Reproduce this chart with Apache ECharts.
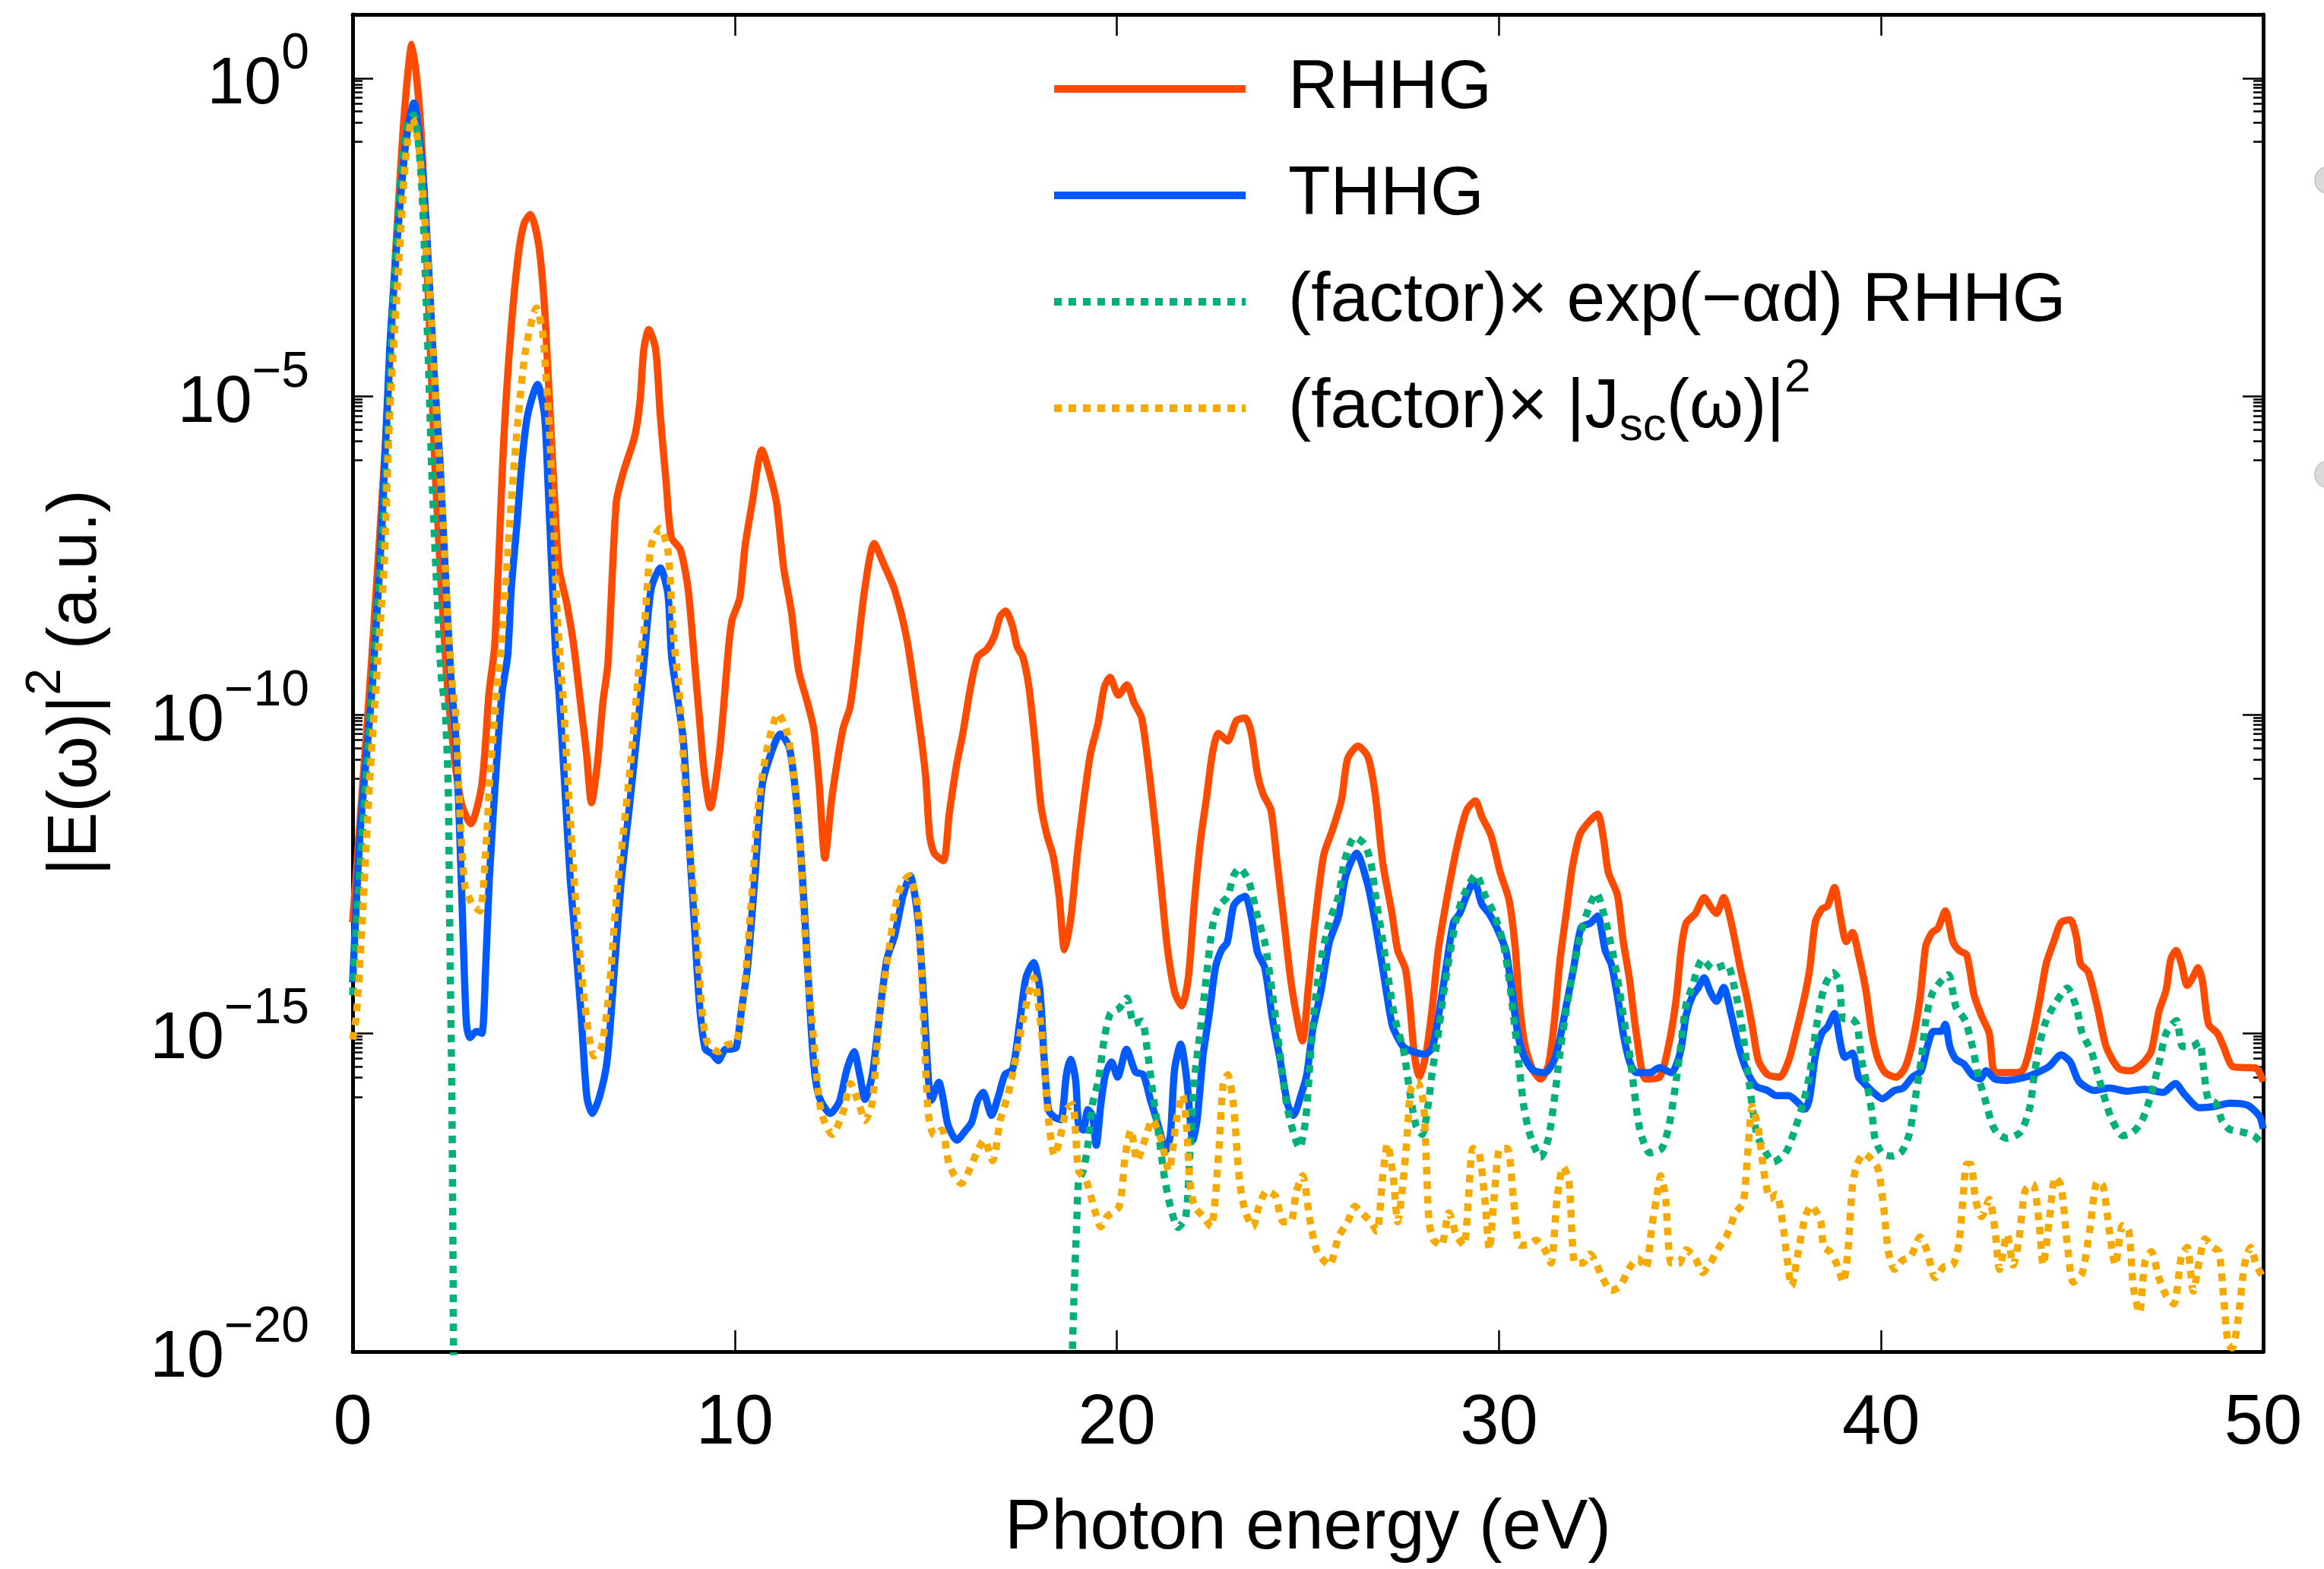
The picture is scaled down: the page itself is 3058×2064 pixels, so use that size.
<!DOCTYPE html>
<html><head><meta charset="utf-8">
<script src="https://cdn.jsdelivr.net/npm/echarts@6/dist/echarts.min.js"></script>
<style>html,body{margin:0;padding:0;background:#fff}#c{width:3058px;height:2064px}</style>
</head><body><div id="c"></div>
<script>
// ---- data: [photon energy (eV), log10 |E|^2] ----
const seriesNames = ['RHHG', 'THHG', '(factor)× exp(−αd) RHHG', '(factor)× |Jsc(ω)|2'];
const seriesColors = ['#FF4B00', '#005AFF', '#03AF7A', '#F6AA00'];

const rhhgLog = [[0,-13.26],[0.25,-11.2],[0.49,-9.2],[0.87,-5.63],[1.11,-2.89],[1.36,-0.5],[1.55,0.53],[1.79,-0.84],[1.99,-3.58],[2.17,-6.32],[2.45,-9.3],[2.65,-10.6],[2.85,-11.4],[3.09,-11.71],[3.38,-11.1],[3.57,-9.65],[3.72,-8.9],[3.96,-5.63],[4.15,-3.92],[4.34,-2.76],[4.49,-2.28],[4.65,-2.14],[4.87,-2.62],[5.02,-3.58],[5.11,-4.6],[5.26,-6.32],[5.4,-7.69],[5.6,-8.24],[5.79,-8.93],[6.0,-10.0],[6.12,-10.6],[6.25,-11.38],[6.4,-10.8],[6.55,-9.8],[6.68,-9.2],[6.9,-6.66],[7.09,-6.18],[7.38,-5.63],[7.52,-5.08],[7.62,-4.26],[7.75,-3.95],[7.93,-4.26],[8.05,-5.29],[8.2,-6.32],[8.34,-7.21],[8.58,-7.41],[8.78,-8.03],[8.97,-9.33],[9.07,-10.01],[9.2,-10.9],[9.36,-11.46],[9.6,-10.59],[9.84,-8.93],[9.93,-8.51],[10.13,-8.17],[10.27,-7.35],[10.46,-6.66],[10.71,-5.84],[10.9,-6.18],[11.09,-6.66],[11.28,-7.69],[11.48,-8.37],[11.67,-9.3],[11.9,-9.8],[12.07,-10.23],[12.21,-11.1],[12.36,-12.25],[12.54,-11.31],[12.83,-10.23],[13.02,-9.87],[13.21,-9.0],[13.4,-8.03],[13.65,-7.31],[13.89,-7.62],[14.18,-8.03],[14.5,-8.8],[14.79,-9.97],[14.99,-10.93],[15.1,-11.89],[15.22,-12.17],[15.46,-12.29],[15.61,-11.57],[15.81,-10.77],[15.97,-10.29],[16.17,-9.57],[16.36,-9.09],[16.6,-8.97],[16.79,-8.77],[16.95,-8.45],[17.09,-8.37],[17.27,-8.61],[17.39,-8.93],[17.54,-9.09],[17.7,-9.57],[17.86,-10.45],[18.01,-11.41],[18.17,-11.89],[18.33,-12.21],[18.49,-12.85],[18.63,-13.69],[18.8,-13.17],[18.96,-12.21],[19.12,-11.41],[19.31,-10.61],[19.51,-10.13],[19.67,-9.57],[19.82,-9.41],[20.04,-9.69],[20.26,-9.53],[20.45,-9.81],[20.65,-10.05],[20.85,-10.93],[21.0,-11.73],[21.16,-12.69],[21.32,-13.65],[21.52,-14.37],[21.7,-14.57],[21.87,-14.13],[22.03,-12.93],[22.19,-11.97],[22.34,-11.33],[22.5,-10.61],[22.66,-10.29],[22.9,-10.41],[23.13,-10.09],[23.36,-10.05],[23.52,-10.29],[23.68,-10.93],[23.83,-11.25],[24.03,-11.49],[24.19,-12.29],[24.39,-13.33],[24.58,-14.29],[24.86,-15.12],[25.01,-14.29],[25.17,-13.33],[25.41,-12.21],[25.64,-11.81],[25.88,-11.33],[26.04,-10.69],[26.31,-10.49],[26.57,-10.66],[26.76,-11.24],[26.96,-12.33],[27.2,-13.12],[27.35,-13.7],[27.55,-13.99],[27.67,-14.57],[27.79,-15.36],[27.92,-15.69],[28.1,-15.29],[28.26,-14.57],[28.41,-13.7],[28.61,-12.97],[28.81,-12.33],[28.97,-11.89],[29.16,-11.49],[29.38,-11.35],[29.55,-11.6],[29.79,-11.89],[30.03,-12.47],[30.26,-12.9],[30.42,-13.63],[30.54,-14.57],[30.69,-15.22],[30.89,-15.58],[31.09,-15.72],[31.29,-15.51],[31.44,-14.86],[31.6,-13.84],[31.76,-13.12],[31.92,-12.4],[32.11,-11.89],[32.31,-11.71],[32.58,-11.56],[32.74,-11.96],[32.86,-12.47],[33.1,-12.83],[33.25,-13.55],[33.41,-14.13],[33.61,-15.07],[33.84,-15.72],[34.2,-15.69],[34.43,-15.22],[34.63,-14.5],[34.78,-13.63],[34.9,-13.27],[35.14,-13.12],[35.37,-12.87],[35.53,-13.01],[35.69,-13.12],[35.88,-12.87],[36.08,-13.27],[36.32,-13.99],[36.48,-14.42],[36.64,-14.93],[36.79,-15.43],[37.03,-15.65],[37.34,-15.69],[37.58,-15.43],[37.77,-15.0],[37.97,-14.5],[38.13,-14.0],[38.28,-13.25],[38.45,-13.05],[38.6,-13.0],[38.78,-12.71],[38.93,-13.15],[39.09,-13.56],[39.25,-13.42],[39.41,-13.77],[39.6,-14.32],[39.76,-15.0],[39.92,-15.41],[40.11,-15.62],[40.39,-15.69],[40.62,-15.55],[40.82,-15.14],[41.02,-14.45],[41.17,-13.63],[41.33,-13.42],[41.49,-13.35],[41.68,-13.08],[41.88,-13.56],[42.04,-13.7],[42.24,-13.77],[42.43,-14.39],[42.63,-14.73],[42.83,-15.0],[42.98,-15.62],[43.3,-15.62],[43.69,-15.59],[43.93,-15.14],[44.16,-14.45],[44.32,-13.91],[44.52,-13.56],[44.71,-13.26],[44.95,-13.22],[45.11,-13.49],[45.22,-13.91],[45.42,-14.04],[45.66,-14.59],[45.89,-15.21],[46.21,-15.55],[46.52,-15.59],[46.83,-15.48],[47.07,-15.28],[47.27,-14.66],[47.46,-14.32],[47.58,-13.84],[47.72,-13.7],[47.86,-13.91],[48.01,-14.25],[48.17,-14.11],[48.29,-13.97],[48.41,-14.18],[48.57,-14.86],[48.8,-15.0],[48.96,-15.21],[49.19,-15.52],[49.51,-15.54],[49.82,-15.55],[50.0,-15.76]];

const thhgLog = [[0,-14.2],[0.2,-11.82],[0.52,-9.5],[0.77,-7.0],[0.97,-4.26],[1.21,-2.21],[1.4,-0.98],[1.6,-0.39],[1.84,-1.52],[1.98,-2.89],[2.13,-4.6],[2.28,-5.97],[2.42,-7.69],[2.57,-9.4],[2.7,-10.37],[2.8,-11.82],[2.9,-13.63],[2.98,-14.86],[3.07,-15.07],[3.24,-14.97],[3.38,-15.0],[3.48,-13.99],[3.58,-12.54],[3.77,-10.73],[3.91,-9.65],[4.06,-9.06],[4.15,-8.03],[4.3,-7.0],[4.44,-5.97],[4.58,-5.29],[4.84,-4.81],[5.02,-5.29],[5.11,-6.32],[5.21,-7.69],[5.31,-9.0],[5.4,-9.65],[5.55,-11.1],[5.69,-12.54],[5.84,-13.63],[5.98,-14.71],[6.13,-16.0],[6.27,-16.26],[6.46,-16.0],[6.66,-15.43],[6.85,-13.99],[7.04,-12.54],[7.24,-11.46],[7.43,-10.37],[7.62,-9.2],[7.81,-8.03],[8.05,-7.69],[8.25,-8.1],[8.35,-9.1],[8.65,-10.37],[8.79,-11.82],[8.94,-13.26],[9.08,-14.57],[9.23,-15.25],[9.42,-15.33],[9.57,-15.43],[9.76,-15.25],[9.9,-15.25],[10.04,-15.22],[10.19,-14.57],[10.33,-13.99],[10.53,-12.54],[10.72,-11.1],[10.96,-10.59],[11.19,-10.3],[11.43,-10.52],[11.62,-11.38],[11.77,-12.54],[11.91,-13.99],[12.06,-15.43],[12.21,-16.0],[12.5,-16.26],[12.74,-16.07],[12.93,-15.58],[13.12,-15.29],[13.27,-15.65],[13.41,-16.04],[13.6,-15.65],[13.79,-14.71],[13.98,-13.84],[14.18,-13.48],[14.4,-12.85],[14.59,-12.53],[14.79,-13.17],[14.91,-14.13],[14.99,-14.93],[15.07,-15.73],[15.15,-16.05],[15.34,-15.77],[15.46,-16.05],[15.58,-16.44],[15.81,-16.68],[16.05,-16.52],[16.2,-16.4],[16.36,-16.05],[16.5,-15.93],[16.72,-16.29],[16.91,-15.97],[17.07,-15.65],[17.27,-15.57],[17.47,-14.77],[17.62,-14.13],[17.82,-13.89],[17.98,-14.29],[18.09,-15.33],[18.21,-16.2],[18.37,-16.32],[18.53,-16.36],[18.68,-15.65],[18.79,-15.41],[18.92,-15.73],[19.0,-16.44],[19.12,-16.52],[19.24,-16.2],[19.36,-16.29],[19.46,-16.76],[19.58,-16.12],[19.7,-15.65],[19.86,-15.45],[20.02,-15.69],[20.25,-15.25],[20.49,-15.61],[20.69,-15.65],[20.88,-16.05],[21.08,-16.44],[21.28,-16.84],[21.4,-16.6],[21.51,-15.57],[21.67,-15.17],[21.83,-15.73],[21.99,-16.68],[22.1,-16.36],[22.26,-15.33],[22.42,-14.69],[22.58,-13.97],[22.74,-13.69],[22.89,-13.57],[23.05,-13.01],[23.21,-12.89],[23.36,-12.85],[23.52,-13.17],[23.68,-13.73],[23.87,-13.97],[24.07,-14.77],[24.27,-15.41],[24.47,-16.12],[24.62,-16.29],[24.82,-15.97],[24.97,-15.65],[25.13,-14.93],[25.33,-14.37],[25.56,-13.57],[25.8,-13.17],[25.99,-12.53],[26.27,-12.17],[26.57,-12.68],[26.76,-13.26],[26.96,-13.99],[27.2,-14.86],[27.35,-15.07],[27.51,-15.22],[27.75,-15.29],[28.06,-15.33],[28.26,-15.22],[28.46,-14.57],[28.61,-13.99],[28.81,-13.26],[28.97,-13.12],[29.16,-12.83],[29.35,-12.61],[29.55,-12.97],[29.74,-13.12],[29.94,-13.34],[30.18,-13.7],[30.34,-14.35],[30.49,-15.0],[30.65,-15.36],[30.89,-15.58],[31.2,-15.62],[31.44,-15.43],[31.6,-15.07],[31.76,-14.57],[31.95,-13.99],[32.15,-13.34],[32.39,-13.27],[32.58,-13.16],[32.78,-13.7],[32.94,-13.92],[33.1,-14.42],[33.25,-15.0],[33.41,-15.43],[33.6,-15.62],[33.95,-15.62],[34.2,-15.54],[34.51,-15.62],[34.75,-15.29],[34.9,-14.71],[35.06,-14.42],[35.22,-14.28],[35.37,-14.13],[35.53,-14.35],[35.69,-14.5],[35.88,-14.28],[36.08,-14.71],[36.28,-15.22],[36.48,-15.58],[36.72,-15.83],[37.03,-15.9],[37.26,-15.98],[37.58,-15.98],[37.81,-16.08],[38.01,-16.19],[38.13,-16.01],[38.28,-15.35],[38.45,-15.0],[38.6,-14.9],[38.78,-14.69],[38.93,-15.14],[39.05,-15.38],[39.25,-15.31],[39.41,-15.69],[39.56,-15.79],[39.8,-15.93],[40.03,-16.03],[40.35,-15.9],[40.58,-15.86],[40.82,-15.69],[41.05,-15.59],[41.21,-15.21],[41.37,-14.97],[41.57,-14.97],[41.68,-14.86],[41.8,-15.21],[41.96,-15.41],[42.16,-15.48],[42.39,-15.66],[42.59,-15.72],[42.75,-15.59],[42.98,-15.72],[43.3,-15.74],[43.77,-15.69],[44.08,-15.62],[44.4,-15.52],[44.71,-15.34],[44.95,-15.45],[45.18,-15.76],[45.58,-15.9],[45.97,-15.86],[46.44,-15.91],[46.91,-15.88],[47.38,-15.93],[47.7,-15.79],[47.94,-15.96],[48.33,-16.17],[48.72,-16.15],[49.12,-16.1],[49.59,-16.13],[49.9,-16.3],[50,-16.5]];

const expRhhgLog = [[0,-14.4],[0.1,-13.26],[0.3,-11.46],[0.58,-8.93],[0.87,-6.32],[1.06,-3.58],[1.26,-1.52],[1.45,-0.67],[1.6,-0.58],[1.79,-1.52],[1.89,-2.89],[1.99,-4.6],[2.08,-6.32],[2.23,-8.37],[2.32,-9.4],[2.42,-9.9],[2.5,-11.1],[2.54,-13.26],[2.6,-16.15],[2.64,-19.9],[2.66,-22],[2.7,null],[18.8,null],[18.82,-22],[18.84,-19.96],[18.89,-18.92],[18.94,-18.14],[19.0,-17.32],[19.12,-17.16],[19.24,-16.76],[19.36,-16.12],[19.52,-15.73],[19.67,-15.09],[19.83,-14.69],[20.06,-14.61],[20.26,-14.45],[20.45,-14.85],[20.65,-14.81],[20.81,-15.33],[20.93,-15.89],[21.08,-16.52],[21.24,-17.24],[21.4,-17.72],[21.6,-18.05],[21.8,-17.89],[21.91,-16.92],[22.03,-15.73],[22.19,-14.93],[22.34,-14.13],[22.5,-13.33],[22.66,-13.01],[22.9,-12.85],[23.05,-12.53],[23.21,-12.41],[23.45,-12.61],[23.68,-13.17],[23.87,-13.57],[24.07,-14.37],[24.27,-15.33],[24.47,-16.2],[24.78,-16.8],[24.94,-16.36],[25.06,-15.41],[25.17,-14.61],[25.33,-13.89],[25.56,-13.25],[25.8,-12.85],[25.96,-12.29],[26.23,-11.92],[26.49,-12.04],[26.65,-12.33],[26.8,-12.97],[26.96,-13.55],[27.12,-14.2],[27.28,-14.78],[27.51,-15.29],[27.67,-15.94],[27.83,-16.45],[27.99,-16.59],[28.14,-16.15],[28.26,-15.58],[28.38,-15.14],[28.54,-14.42],[28.69,-13.84],[28.89,-13.19],[29.08,-12.83],[29.4,-12.51],[29.63,-12.83],[29.87,-13.12],[30.1,-13.55],[30.26,-14.13],[30.42,-14.93],[30.54,-15.58],[30.65,-16.15],[30.81,-16.59],[31.09,-16.95],[31.29,-16.66],[31.44,-16.08],[31.6,-15.29],[31.76,-14.64],[31.95,-13.99],[32.15,-13.41],[32.39,-12.97],[32.55,-12.8],[32.74,-13.12],[32.94,-13.63],[33.1,-14.13],[33.25,-14.71],[33.41,-15.29],[33.53,-15.86],[33.69,-16.52],[33.95,-16.88],[34.26,-16.81],[34.45,-16.45],[34.61,-15.86],[34.77,-15.14],[34.89,-14.57],[35.05,-14.28],[35.33,-13.84],[35.6,-13.99],[35.96,-13.92],[36.16,-14.28],[36.35,-14.86],[36.55,-15.79],[36.75,-16.59],[36.99,-16.88],[37.18,-17.02],[37.5,-16.88],[37.74,-16.52],[37.97,-16.08],[38.13,-15.65],[38.28,-15.0],[38.5,-14.3],[38.74,-14.05],[38.9,-14.18],[39.01,-14.77],[39.21,-14.77],[39.37,-14.87],[39.49,-15.42],[39.64,-15.83],[39.76,-16.25],[39.84,-16.65],[40.03,-16.89],[40.31,-16.93],[40.54,-16.86],[40.74,-16.58],[40.89,-16.04],[41.05,-15.42],[41.17,-14.8],[41.33,-14.39],[41.57,-14.18],[41.76,-14.08],[41.96,-14.59],[42.2,-14.8],[42.39,-15.21],[42.55,-15.69],[42.75,-16.1],[42.91,-16.44],[43.06,-16.58],[43.3,-16.65],[43.65,-16.55],[43.89,-16.17],[44.0,-15.69],[44.16,-15.14],[44.32,-14.8],[44.56,-14.53],[44.87,-14.29],[45.11,-14.59],[45.26,-15.0],[45.5,-15.28],[45.66,-15.62],[45.89,-16.1],[46.05,-16.37],[46.33,-16.61],[46.6,-16.55],[46.83,-16.37],[47.07,-15.96],[47.27,-15.48],[47.46,-15.0],[47.73,-14.8],[47.89,-15.21],[48.13,-15.21],[48.33,-15.14],[48.44,-15.55],[48.56,-16.04],[48.76,-16.1],[48.92,-16.37],[49.12,-16.51],[49.43,-16.55],[49.75,-16.61],[50,-16.75]];

const jscLog = [[0,-15.1],[0.1,-14.71],[0.25,-13.26],[0.44,-11.1],[0.68,-8.93],[0.82,-7.69],[0.97,-5.29],[1.21,-2.89],[1.4,-1.17],[1.57,-0.63],[1.74,-1.11],[1.89,-2.21],[2.04,-3.58],[2.23,-5.63],[2.37,-7.0],[2.51,-8.72],[2.62,-9.6],[2.7,-10.01],[2.8,-11.46],[2.94,-12.69],[3.14,-12.98],[3.33,-13.08],[3.48,-12.17],[3.58,-11.1],[3.77,-9.65],[3.93,-8.6],[4.15,-6.66],[4.34,-5.29],[4.53,-4.26],[4.81,-3.61],[4.97,-3.99],[5.06,-4.67],[5.16,-5.63],[5.26,-7.0],[5.35,-8.37],[5.45,-9.3],[5.5,-9.65],[5.64,-11.1],[5.79,-12.54],[5.93,-13.63],[6.08,-14.57],[6.32,-15.36],[6.51,-15.22],[6.71,-14.35],[6.9,-12.9],[7.09,-11.82],[7.28,-10.73],[7.52,-9.1],[7.62,-8.72],[7.81,-7.35],[8.05,-7.07],[8.25,-7.41],[8.39,-8.72],[8.55,-9.65],[8.7,-11.1],[8.84,-12.18],[8.99,-13.26],[9.13,-14.57],[9.28,-15.14],[9.57,-15.29],[9.81,-15.18],[10.04,-15.14],[10.23,-14.42],[10.42,-13.05],[10.61,-11.46],[10.85,-10.52],[11.14,-9.98],[11.38,-10.3],[11.58,-11.1],[11.72,-12.18],[11.86,-13.63],[12.06,-15.07],[12.26,-16.23],[12.55,-16.59],[12.84,-16.23],[13.03,-15.79],[13.27,-16.15],[13.41,-16.37],[13.6,-16.08],[13.79,-14.71],[13.98,-13.92],[14.27,-12.83],[14.55,-12.53],[14.79,-13.01],[14.95,-14.93],[15.07,-16.28],[15.22,-16.6],[15.42,-16.52],[15.62,-17.08],[15.93,-17.36],[16.13,-17.16],[16.36,-16.84],[16.52,-16.68],[16.75,-17.0],[16.95,-16.36],[17.15,-15.97],[17.35,-15.41],[17.55,-14.77],[17.82,-14.13],[18.02,-14.93],[18.13,-15.73],[18.21,-16.36],[18.37,-16.92],[18.53,-16.6],[18.68,-16.2],[18.84,-16.12],[19.0,-17.16],[19.2,-17.32],[19.43,-17.8],[19.58,-18.04],[19.74,-17.88],[20.06,-17.72],[20.22,-16.92],[20.37,-16.52],[20.53,-17.0],[20.73,-16.68],[20.93,-16.36],[21.16,-16.68],[21.36,-17.16],[21.56,-16.36],[21.72,-15.97],[21.83,-16.52],[21.91,-17.32],[22.03,-17.72],[22.26,-17.88],[22.46,-18.04],[22.66,-16.92],[22.78,-15.81],[22.9,-15.65],[23.05,-16.12],[23.21,-17.32],[23.36,-17.8],[23.56,-18.04],[23.72,-17.72],[23.92,-17.48],[24.15,-17.56],[24.35,-17.96],[24.55,-17.96],[24.7,-17.48],[24.86,-17.24],[25.06,-17.96],[25.25,-18.44],[25.56,-18.64],[25.8,-18.2],[26.04,-17.96],[26.23,-17.72],[26.4,-17.82],[26.64,-17.96],[26.8,-18.11],[26.96,-17.24],[27.08,-16.74],[27.23,-17.24],[27.35,-17.96],[27.47,-17.46],[27.58,-16.74],[27.7,-15.86],[27.86,-15.76],[28.02,-16.08],[28.09,-16.88],[28.17,-17.96],[28.29,-18.25],[28.49,-18.33],[28.69,-17.82],[28.89,-18.18],[29.08,-18.33],[29.2,-17.6],[29.32,-16.81],[29.48,-16.88],[29.63,-17.6],[29.75,-18.4],[29.87,-17.6],[30.03,-16.81],[30.22,-16.81],[30.38,-17.6],[30.54,-18.33],[30.73,-18.33],[30.97,-18.25],[31.2,-18.4],[31.36,-18.61],[31.52,-17.6],[31.68,-17.1],[31.83,-17.31],[31.99,-18.61],[32.19,-18.61],[32.39,-18.47],[32.54,-18.61],[32.7,-18.83],[32.94,-19.04],[33.17,-18.97],[33.41,-18.69],[33.64,-18.54],[33.84,-18.69],[34.0,-18.04],[34.12,-17.6],[34.23,-17.24],[34.35,-17.53],[34.51,-18.61],[34.71,-18.61],[34.9,-18.4],[35.14,-18.54],[35.33,-18.76],[35.53,-18.61],[35.72,-18.4],[35.96,-18.18],[36.19,-17.82],[36.39,-17.67],[36.51,-16.88],[36.63,-16.15],[36.79,-16.52],[36.95,-17.24],[37.1,-17.6],[37.26,-17.53],[37.42,-17.96],[37.54,-18.54],[37.66,-18.97],[37.82,-18.47],[38.01,-17.89],[38.17,-17.71],[38.3,-17.8],[38.42,-17.95],[38.5,-18.36],[38.66,-18.43],[38.85,-18.64],[39.01,-18.91],[39.13,-18.43],[39.25,-17.4],[39.37,-17.06],[39.56,-16.89],[39.76,-16.99],[39.92,-17.13],[40.07,-17.74],[40.19,-18.43],[40.35,-18.71],[40.55,-18.57],[40.78,-18.5],[41.02,-18.2],[41.21,-18.43],[41.41,-18.84],[41.64,-18.67],[41.88,-18.64],[42.04,-18.29],[42.16,-17.47],[42.24,-17.06],[42.35,-17.06],[42.47,-17.61],[42.63,-17.88],[42.83,-17.61],[42.98,-18.09],[43.1,-18.71],[43.3,-18.16],[43.46,-18.64],[43.61,-18.23],[43.77,-17.47],[43.97,-17.37],[44.13,-17.95],[44.24,-18.64],[44.4,-17.95],[44.56,-17.26],[44.71,-17.4],[44.87,-18.29],[45.03,-18.91],[45.26,-18.77],[45.46,-18.09],[45.66,-17.33],[45.81,-17.4],[45.97,-18.09],[46.13,-18.64],[46.32,-18.02],[46.48,-18.09],[46.6,-18.98],[46.76,-19.39],[46.91,-18.57],[47.07,-18.43],[47.27,-18.84],[47.46,-19.12],[47.66,-19.25],[47.86,-18.5],[48.01,-18.36],[48.17,-19.05],[48.33,-18.57],[48.48,-18.23],[48.68,-18.36],[48.84,-18.43],[48.96,-19.12],[49.08,-19.88],[49.19,-19.94],[49.35,-19.46],[49.51,-18.64],[49.67,-18.36],[49.82,-18.64],[50,-18.84]];

// ---- axis ticks / labels ----
const xTicks = [0, 10, 20, 30, 40, 50];
const yMajorTicks = [1e-20, 1e-15, 1e-10, 1e-5, 1];
const yTickExponents = ['−20', '−15', '−10', '−5', '0'];
const yMinorTicks = [];
yMajorTicks.forEach(v => { if (v > 1e-20) { for (let k = 1; k <= 9; k++) yMinorTicks.push(k * v / 10); } });

const FONT = 'Liberation Sans';
const toPoints = arr => arr.map(p => [p[0], p[1] === null ? null : Math.pow(10, p[1])]);

function yLabel(v) {
  let best = 0, bd = Infinity;
  yMajorTicks.forEach((t, i) => { const d = Math.abs(Math.log10(t) - Math.log10(v)); if (d < bd) { bd = d; best = i; } });
  return '{b|10}{s|' + yTickExponents[best] + '}';
}
const yRich = {
  b: { fontSize: 88, lineHeight: 88, fontFamily: FONT, color: '#000' },
  s: { fontSize: 66, lineHeight: 66, fontFamily: FONT, color: '#000', padding: [0, 0, 80, 0] }
};

function makeY(pos, ticks, len, labels) {
  return {
    type: 'log', min: 1e-20, max: 10, position: pos, gridIndex: 0,
    axisLine: { show: labels, lineStyle: { color: '#000', width: 5 } },
    axisTick: { show: true, inside: true, length: len, customValues: ticks, lineStyle: { color: '#000', width: 2.5 } },
    axisLabel: labels && pos === 'left' ? {
      show: true, customValues: yMajorTicks, formatter: yLabel, rich: yRich,
      margin: 57, padding: [18, 0, 0, 0], fontFamily: FONT, fontSize: 88, color: '#000'
    } : { show: false },
    splitLine: { show: false }, minorTick: { show: false }
  };
}

const chart = echarts.init(document.getElementById('c'), null, { renderer: 'canvas' });
const option = {
  animation: false,
  backgroundColor: '#fff',
  grid: { left: 464, right: 80, top: 19, bottom: 286, containLabel: false, outerBoundsMode: 'none' },
  xAxis: [
    {
      type: 'value', min: 0, max: 50, interval: 10, position: 'bottom',
      axisLine: { show: true, onZero: false, lineStyle: { color: '#000', width: 5 } },
      axisTick: { show: true, inside: true, length: 28, lineStyle: { color: '#000', width: 2.5 } },
      axisLabel: { show: true, margin: 50, fontFamily: FONT, fontSize: 92, color: '#000',
        customValues: xTicks, formatter: v => String(v) },
      splitLine: { show: false },
      name: 'Photon energy (eV)', nameLocation: 'middle', nameGap: 188,
      nameTextStyle: { fontFamily: FONT, fontSize: 92, color: '#000' }
    },
    {
      type: 'value', min: 0, max: 50, interval: 10, position: 'top',
      axisLine: { show: true, onZero: false, lineStyle: { color: '#000', width: 5 } },
      axisTick: { show: true, inside: true, length: 28, lineStyle: { color: '#000', width: 2.5 } },
      axisLabel: { show: false }, splitLine: { show: false }
    }
  ],
  yAxis: [
    makeY('left', yMajorTicks, 27, true),
    makeY('left', yMinorTicks, 13, false),
    makeY('right', yMajorTicks, 27, true),
    makeY('right', yMinorTicks, 13, false)
  ],
  legend: {
    show: true, orient: 'vertical', left: 1382, top: 47, padding: 0,
    itemWidth: 252, itemHeight: 20, itemGap: 0,
    data: seriesNames,
    itemStyle: { opacity: 0, borderWidth: 0 },
    lineStyle: { width: 10, cap: 'butt' },
    textStyle: {
      fontFamily: FONT, fontSize: 91, color: '#000', lineHeight: 140, padding: [0, 0, 0, 51],
      rich: {
        t: { fontFamily: FONT, fontSize: 91, lineHeight: 140, color: '#000' },
        sub: { fontFamily: FONT, fontSize: 62, lineHeight: 62, color: '#000', padding: [50, 0, 0, 0] },
        sup: { fontFamily: FONT, fontSize: 62, lineHeight: 62, color: '#000', padding: [0, 0, 78, 0] }
      }
    },
    formatter: function (name) {
      if (name === seriesNames[3]) return '{t|(factor)× |J}{sub|sc}{t|(ω)|}{sup|2}';
      return name;
    }
  },
  graphic: [
    {
      type: 'text', x: 101, y: 898, rotation: Math.PI / 2, z: 100,
      style: {
        text: '{a||E(ω)|}{s|2}{a| (a.u.)}',
        align: 'center', verticalAlign: 'middle', fill: '#000',
        rich: {
          a: { fontFamily: FONT, fontSize: 90, lineHeight: 90, fill: '#000' },
          s: { fontFamily: FONT, fontSize: 64, lineHeight: 64, fill: '#000', padding: [0, 0, 80, 0] }
        }
      }
    },
    { type: 'circle', shape: { cx: 3064, cy: 237, r: 18 }, style: { fill: '#dadada', stroke: '#c0c0c0', lineWidth: 1.5 } },
    { type: 'circle', shape: { cx: 3064, cy: 624, r: 18 }, style: { fill: '#dadada', stroke: '#c0c0c0', lineWidth: 1.5 } }
  ],
  series: [
    { name: seriesNames[0], data: toPoints(rhhgLog), color: seriesColors[0], type: 'solid' },
    { name: seriesNames[1], data: toPoints(thhgLog), color: seriesColors[1], type: 'solid' },
    { name: seriesNames[2], data: toPoints(expRhhgLog), color: seriesColors[2], type: [10, 9] },
    { name: seriesNames[3], data: toPoints(jscLog), color: seriesColors[3], type: [10, 9] }
  ].map(s => ({
    name: s.name, type: 'line', xAxisIndex: 0, yAxisIndex: 0, data: s.data,
    symbol: 'none', showSymbol: false, clip: true, connectNulls: false,
    smooth: 0.25,
    lineStyle: { color: s.color, width: 9.5, type: s.type, cap: 'butt', join: 'round' },
    itemStyle: { color: s.color },
    emphasis: { disabled: true }
  }))
};
chart.setOption(option);
</script>
</body></html>
